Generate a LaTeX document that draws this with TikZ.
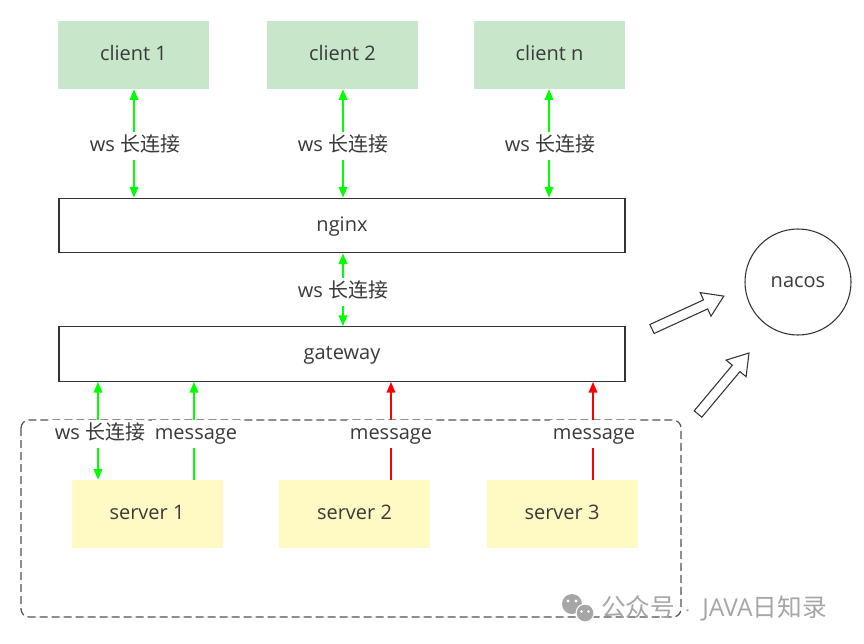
\documentclass[tikz,border=0pt]{standalone}
\usepackage{fontspec}
\setmainfont{Open Sans}
\newfontfamily\cjk{Noto Sans CJK SC}
\usetikzlibrary{arrows.meta,calc}
\definecolor{clientg}{HTML}{C8E6C9}
\definecolor{servery}{HTML}{FFF9C4}
\definecolor{txt}{HTML}{3A3A3A}
\definecolor{boxline}{HTML}{333333}
\definecolor{garr}{HTML}{00FF00}
\definecolor{rarr}{HTML}{FF0000}
\definecolor{wm}{HTML}{A6A6A6}
\begin{document}
\begin{tikzpicture}[x=0.75pt,y=-0.75pt,
  every node/.style={text=txt,font=\fontsize{15}{17}\selectfont,text height=0.95em,text depth=0.12em},
  client/.style={fill=clientg,minimum width=113.25pt,minimum height=51pt,inner sep=0pt},
  server/.style={fill=servery,minimum width=113.25pt,minimum height=51pt,inner sep=0pt},
  bar/.style={draw=boxline,line width=0.9pt,fill=white,minimum width=424.5pt,minimum height=41pt,inner sep=0pt},
  lbl/.style={fill=white,inner xsep=2.5pt,inner ysep=5pt},
  wmk/.style={text=wm,font=\fontsize{18.5}{20}\selectfont,inner sep=0pt,anchor=west},
  gboth/.style={draw=garr,line width=1pt,{Triangle[width=6.5pt,length=8pt]}-{Triangle[width=6.5pt,length=8pt]}},
  gup/.style={draw=garr,line width=1pt,-{Triangle[width=6.5pt,length=8pt]}},
  rup/.style={draw=rarr,line width=1pt,-{Triangle[width=6.5pt,length=8pt]}},
  hollow/.style={draw=boxline,line width=0.8pt,fill=white,line join=miter},
  dashbox/.style={draw=boxline!85,line width=0.9pt,dash pattern=on 6pt off 3pt,rounded corners=6pt}
]
\useasboundingbox (0,0) rectangle (864,643);

% dashed group
\draw[dashbox] (21,420) rectangle (681,617);

% boxes
\node[client] (c1) at (133.5,55) {client 1};
\node[client] (c2) at (342.5,55) {client 2};
\node[client] (cn) at (549.5,55) {client n};
\node[bar] (nginx) at (342,225.5) {nginx};
\node[bar] (gateway) at (342,354) {gateway};
\node[server] (s1) at (147,514) {server 1};
\node[server] (s2) at (354.5,514) {server 2};
\node[server] (s3) at (562,514) {server 3};
\node[draw=boxline,line width=0.8pt,circle,minimum size=79.5pt,inner sep=0pt] (nacos) at (798,282) {nacos};

% connector x positions
\coordinate (x1) at (134,0);
\coordinate (x2) at (343,0);
\coordinate (x3) at (549,0);
\coordinate (xs1a) at (98,0);
\coordinate (xs1b) at (194,0);
\coordinate (xs2) at (391,0);
\coordinate (xs3) at (593,0);

\draw[gboth] (c1.south -| x1) -- (nginx.north -| x1);
\draw[gboth] (c2.south -| x2) -- (nginx.north -| x2);
\draw[gboth] (cn.south -| x3) -- (nginx.north -| x3);
\draw[gboth] (nginx.south -| x2) -- (gateway.north -| x2);
\draw[gboth] (gateway.south -| xs1a) -- (s1.north -| xs1a);
\draw[gup] (s1.north -| xs1b) -- (gateway.south -| xs1b);
\draw[rup] (s2.north -| xs2) -- (gateway.south -| xs2);
\draw[rup] (s3.north -| xs3) -- (gateway.south -| xs3);

% labels
\node[lbl] (l1) at (135,146) {ws {\cjk 长连接}};
\node[lbl] (l2) at (343,146) {ws {\cjk 长连接}};
\node[lbl] (l3) at (550,146) {ws {\cjk 长连接}};
\node[lbl] (l4) at (343,292) {ws {\cjk 长连接}};
\node[lbl] (l5) at (100,434) {ws {\cjk 长连接}};
\node[lbl] (l6) at (196,434) {message};
\node[lbl] (l7) at (391,434) {message};
\node[lbl] (l8) at (594,434) {message};

% hollow arrows toward nacos
\draw[hollow] (654.1,333.5) -- (707.7,308.9) -- (711.0,316.2) -- (723.8,296.1) -- (700.2,292.6) -- (703.5,299.9) -- (649.9,324.5) -- cycle;
\draw[hollow] (701.8,417.2) -- (739.9,371.6) -- (746.1,376.7) -- (749,353) -- (726.1,360.1) -- (732.3,365.2) -- (694.2,410.8) -- cycle;

% watermark
\fill[wm] (572,604) circle (10);
\fill[white] (585,613) circle (9.5);
\fill[wm] (585,613) circle (8.3);
\fill[white] (568,601) circle (1.6) (576,601) circle (1.6) (581.5,611.5) circle (1.3) (588.5,611.5) circle (1.3);
\node[wmk] (wm1) at (601,611) {\cjk 公众号};
\node[wmk] (wm2) at (684,611) {$\cdot$};
\node[wmk] (wm3) at (702,611) {JAVA{\cjk 日知录}};
\end{tikzpicture}
\end{document}
